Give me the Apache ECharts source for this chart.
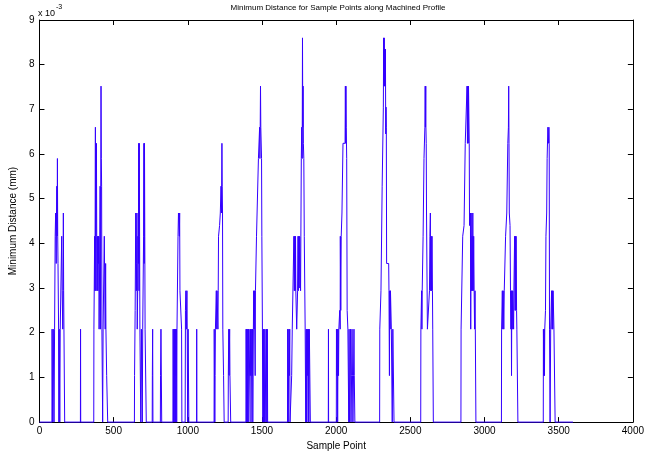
<!DOCTYPE html>
<html>
<head>
<meta charset="utf-8">
<script src="https://cdn.jsdelivr.net/npm/echarts@6/dist/echarts.min.js"></script>
<style>
html,body{margin:0;padding:0;background:#fff;}
#chart{width:647px;height:456px;}
</style>
</head>
<body>
<div id="chart"></div>
<script>
// Minimum distance values are in units of 1e-3 mm (axis shows "x 10^-3")
const titleText = "Minimum Distance for Sample Points along Machined Profile";
const xAxisName = "Sample Point";
const yAxisName = "Minimum Distance (mm)";
const xTicks = [0, 500, 1000, 1500, 2000, 2500, 3000, 3500, 4000];
const yTicks = [0, 1, 2, 3, 4, 5, 6, 7, 8, 9];

// [sample point, min distance (x1e-3 mm)], per machined pass
const pass01 = [[0,0],[84,0],[85,2.08],[88,2.08],[89,0],[92,0],[93,2.08],[97,2.08],[98,0],[101,0],[102,2.08],[105,2.08],[106,4.16],[109,4.68],[111,4.16],[113,3.55],[115,4.68],[117,5.28],[119,4.16],[121,5.9],[123,4.16],[125,3.55],[128,3.55],[129,2.08],[131,0],[133,2.08],[136,2.08],[137,0],[140,2.08],[146,2.08],[148,2.08],[150,4.16],[153,2.94],[155,2.94],[157,2.08],[159,2.94],[161,4.68],[163,2.94],[165,2.08],[169,2.08],[170,0],[276,0],[277,2.08],[278,0]];
const pass02 = [[366,0],[367,2.08],[371,2.08],[372,4.16],[374,2.94],[375,4.16],[377,6.6],[378,4.16],[380,2.94],[382,4.16],[384,6.24],[386,4.16],[388,2.94],[390,3.55],[392,4.16],[394,2.94],[396,4.16],[398,3.55],[400,4.16],[402,2.08],[406,2.08],[407,4.16],[409,5.28],[411,2.08],[413,5.28],[415,7.52],[417,5.9],[419,5.28],[421,2.08],[425,2.08],[426,0],[428,0],[429,2.08],[436,2.08],[437,4.16],[441,4.16],[443,2.08],[446,3.55],[448,2.08],[452,2.08],[453,1.04],[459,1.04],[460,0]];
const pass03 = [[640,0],[641,1.04],[644,1.04],[645,2.5],[648,2.5],[649,4.68],[652,4.68],[653,2.94],[655,3.55],[657,4.68],[659,2.08],[662,2.94],[664,4.16],[667,3.55],[669,6.24],[671,2.94],[673,6.24],[675,4.16],[677,2.08],[682,2.08],[683,0],[686,0],[687,2.08],[692,2.08],[693,0],[695,0],[696,2.08],[701,2.08],[702,4.16],[704,6.24],[706,3.55],[708,6.24],[710,4.16],[712,2.08],[719,2.08],[720,0],[760,0],[761,1.04],[763,2.08],[765,0],[815,0],[816,1.04],[818,1.04],[819,2.08],[823,2.08],[824,0]];
const pass04 = [[900,0],[901,2.08],[903,0],[905,1.04],[907,2.08],[909,0],[911,2.08],[913,1.04],[915,2.08],[917,0],[919,2.08],[921,1.04],[923,2.08],[925,0],[927,2.08],[930,2.08],[934,4.16],[937,4.68],[941,4.68],[943,4.16],[945,4.68],[947,2.94],[956,2.94],[958,2.08],[960,0],[982,0],[984,2.5],[987,2.94],[990,2.08],[994,2.94],[996,2.08],[999,0],[1002,2.08],[1006,2.08],[1007,0],[1059,0],[1060,2.08],[1061,0]];
const pass05 = [[1177,0],[1178,2.08],[1181,2.08],[1182,0],[1184,1.04],[1186,2.08],[1190,2.08],[1192,2.94],[1195,2.08],[1197,2.94],[1200,2.94],[1203,2.08],[1205,2.94],[1207,4.16],[1212,4.16],[1214,4.4],[1217,4.4],[1219,4.68],[1222,4.68],[1224,5.28],[1227,4.68],[1230,6.24],[1232,5.28],[1234,4.68],[1236,2.08],[1240,2.08],[1241,1.04],[1244,1.04],[1245,0],[1272,0],[1273,1.04],[1276,2.08],[1278,1.04],[1282,2.08],[1284,1.04],[1288,1.04],[1289,0]];
const pass06 = [[1392,0],[1393,2.08],[1395,0],[1397,2.08],[1399,1.04],[1401,2.08],[1403,0],[1408,0],[1409,2.08],[1411,0],[1418,0],[1419,2.08],[1421,1.04],[1424,2.08],[1426,0],[1430,0],[1431,2.08],[1434,1.04],[1436,2.08],[1438,0],[1441,0],[1442,2.08],[1444,2.94],[1447,2.08],[1449,2.94],[1452,2.94],[1454,1.04],[1456,2.94],[1460,2.94],[1463,4.16],[1472,4.16],[1476,5.9],[1482,5.9],[1484,6.6],[1486,5.9],[1488,6.6],[1490,7.52],[1492,6.6],[1495,6.6],[1497,5.9],[1499,4.16],[1503,2.08],[1506,0],[1508,2.08],[1511,0],[1513,2.08],[1516,0],[1520,2.08],[1524,2.08],[1526,0],[1530,2.08],[1533,0],[1536,2.08],[1538,0]];
const pass07 = [[1672,0],[1673,2.08],[1676,2.08],[1677,0],[1680,0],[1681,2.08],[1684,1.04],[1687,2.08],[1689,0],[1699,0],[1700,1.04],[1703,1.04],[1704,2.08],[1714,2.08],[1715,4.16],[1718,2.94],[1720,4.16],[1722,3.55],[1724,2.94],[1726,4.16],[1728,2.94],[1733,2.94],[1734,2.08],[1738,2.08],[1740,2.94],[1743,4.16],[1745,2.94],[1748,4.16],[1751,3.0],[1754,4.16],[1758,4.16],[1760,2.94],[1762,4.16],[1765,5.9],[1768,6.6],[1771,5.9],[1773,8.6],[1775,6.6],[1777,7.52],[1779,6.24],[1782,5.9],[1785,4.16],[1789,4.16],[1791,2.08],[1795,0],[1798,2.08],[1800,0],[1802,2.08],[1805,1.04],[1808,2.08],[1811,0],[1813,2.08],[1816,0],[1819,2.08],[1824,2.08],[1826,0],[1947,0],[1948,2.08],[1949,0]];
const pass08 = [[2001,0],[2002,2.08],[2005,1.04],[2007,2.08],[2010,0],[2013,2.08],[2016,1.04],[2018,2.08],[2022,2.08],[2024,2.5],[2027,2.08],[2028,4.16],[2031,2.5],[2034,4.16],[2037,4.16],[2039,4.68],[2044,4.68],[2046,6.24],[2060,6.24],[2062,7.52],[2064,6.24],[2066,7.52],[2068,6.6],[2071,5.9],[2074,2.5],[2077,2.5],[2079,2.08],[2084,2.08],[2085,0],[2087,2.08],[2090,0],[2094,1.04],[2097,2.08],[2100,0],[2104,1.04],[2107,2.08],[2110,1.04],[2113,0],[2117,1.04],[2120,2.08],[2122,1.04],[2125,1.04],[2126,0]];
const pass09 = [[2293,0],[2294,2.08],[2300,2.08],[2302,2.94],[2309,2.94],[2310,5.28],[2316,5.28],[2318,7.05],[2320,8.6],[2322,7.52],[2324,8.6],[2326,7.52],[2328,8.35],[2330,7.52],[2332,8.35],[2334,6.45],[2336,7.05],[2338,6.6],[2340,3.55],[2354,3.55],[2356,2.94],[2359,1.04],[2361,2.94],[2364,2.08],[2366,2.94],[2370,2.94],[2372,2.08],[2377,2.08],[2378,0],[2381,0],[2382,2.08],[2388,2.08],[2390,0]];
const pass10 = [[2570,0],[2571,2.08],[2575,2.08],[2576,2.94],[2578,2.08],[2580,2.94],[2584,2.94],[2586,4.16],[2590,4.16],[2592,5.9],[2596,5.9],[2598,6.6],[2600,7.52],[2602,6.6],[2604,7.52],[2605,6.6],[2607,6.24],[2609,4.68],[2613,4.68],[2615,2.08],[2627,2.08],[2629,2.94],[2632,4.16],[2635,4.68],[2637,2.94],[2640,4.16],[2643,2.94],[2646,4.16],[2649,2.94],[2651,2.08],[2654,2.08],[2655,0]];
const pass11 = [[2841,0],[2842,2.08],[2852,2.08],[2853,4.16],[2860,4.16],[2862,4.4],[2868,4.4],[2870,6.24],[2880,6.24],[2882,7.52],[2885,6.24],[2887,7.52],[2890,6.24],[2892,7.52],[2895,7.52],[2897,6.24],[2899,4.4],[2903,4.4],[2905,4.68],[2907,2.08],[2910,4.68],[2913,2.94],[2916,4.16],[2918,2.94],[2921,4.68],[2924,2.94],[2927,4.16],[2930,2.94],[2933,2.08],[2936,2.94],[2938,2.08],[2941,2.08],[2942,0]];
const pass12 = [[3114,0],[3115,2.08],[3119,2.08],[3120,2.94],[3123,2.08],[3126,2.94],[3130,2.08],[3133,2.94],[3140,2.94],[3142,4.16],[3148,4.16],[3150,4.68],[3155,4.68],[3157,6.24],[3161,6.6],[3163,7.52],[3165,6.24],[3167,4.68],[3170,4.68],[3172,4.4],[3175,2.94],[3178,2.08],[3180,2.94],[3182,1.04],[3184,2.94],[3187,2.08],[3190,2.94],[3194,2.94],[3196,2.08],[3198,2.94],[3201,2.94],[3203,4.16],[3206,2.5],[3208,4.16],[3211,2.5],[3213,4.16],[3216,2.5],[3218,2.08],[3222,2.08],[3225,0]];
const pass13 = [[3396,0],[3397,2.08],[3400,1.04],[3402,2.08],[3404,1.04],[3406,2.08],[3409,2.08],[3411,2.5],[3414,4.16],[3417,4.16],[3419,4.68],[3422,5.9],[3425,5.9],[3427,6.6],[3430,6.6],[3432,6.24],[3434,6.6],[3436,6.24],[3438,2.08],[3441,2.08],[3442,0],[3445,0],[3446,2.08],[3450,2.08],[3452,2.94],[3455,2.08],[3457,2.94],[3460,2.08],[3462,2.94],[3466,2.94],[3468,2.08],[3474,2.08],[3476,0],[3596,0]];

const profileData = [].concat(pass01, pass02, pass03, pass04, pass05, pass06, pass07,
  pass08, pass09, pass10, pass11, pass12, pass13);

const FONT = "'Liberation Sans', Arial, sans-serif";
const chart = echarts.init(document.getElementById('chart'), null, {renderer: 'canvas'});

const xMin = xTicks[0], xMax = xTicks[xTicks.length - 1];
const yMin = yTicks[0], yMax = yTicks[yTicks.length - 1];

const baseAxis = {
  axisLine: {show: true, onZero: false, lineStyle: {color: '#000', width: 1}},
  axisTick: {show: true, inside: true, length: 5, lineStyle: {color: '#000'}},
  splitLine: {show: false},
};

chart.setOption({
  animation: false,
  backgroundColor: '#fff',
  grid: {left: 38, right: 8, top: 20, bottom: 29, containLabel: false, show: false},
  xAxis: [
    Object.assign({}, baseAxis, {
      type: 'value', position: 'bottom', min: xMin, max: xMax, interval: 500,
      name: xAxisName, nameLocation: 'middle', nameGap: 12,
      nameTextStyle: {fontFamily: FONT, fontSize: 10, color: '#000'},
      axisLabel: {fontFamily: FONT, fontSize: 10, color: '#000', margin: 4,
                  formatter: v => String(v)}
    }),
    Object.assign({}, baseAxis, {
      type: 'value', position: 'top', min: xMin, max: xMax, interval: 500,
      axisLabel: {show: false}
    })
  ],
  yAxis: [
    Object.assign({}, baseAxis, {
      type: 'value', position: 'left', min: yMin, max: yMax, interval: 1,
      name: yAxisName, nameLocation: 'middle', nameGap: 20, nameRotate: 90,
      nameTextStyle: {fontFamily: FONT, fontSize: 10, color: '#000'},
      axisLabel: {fontFamily: FONT, fontSize: 10, color: '#000', margin: 5,
                  formatter: v => String(v)}
    }),
    Object.assign({}, baseAxis, {
      type: 'value', position: 'right', min: yMin, max: yMax, interval: 1,
      axisLabel: {show: false}
    })
  ],
  graphic: [
    {type: 'text', x: 338, y: 8, z: 10,
     style: {text: titleText, font: "8px " + FONT, fill: '#000', align: 'center', verticalAlign: 'middle'}},
    {type: 'text', x: 38, y: 14, z: 10,
     style: {text: 'x 10', font: "9px " + FONT, fill: '#000', align: 'left', verticalAlign: 'middle'}},
    {type: 'text', x: 56, y: 7, z: 10,
     style: {text: '-3', font: "7px " + FONT, fill: '#000', align: 'left', verticalAlign: 'middle'}}
  ],
  series: [{
    type: 'line',
    xAxisIndex: 0, yAxisIndex: 0,
    data: profileData,
    showSymbol: false,
    symbol: 'none',
    sampling: null,
    clip: false,
    lineStyle: {color: '#3300ff', width: 1},
    z: 5
  }]
});
</script>
</body>
</html>
